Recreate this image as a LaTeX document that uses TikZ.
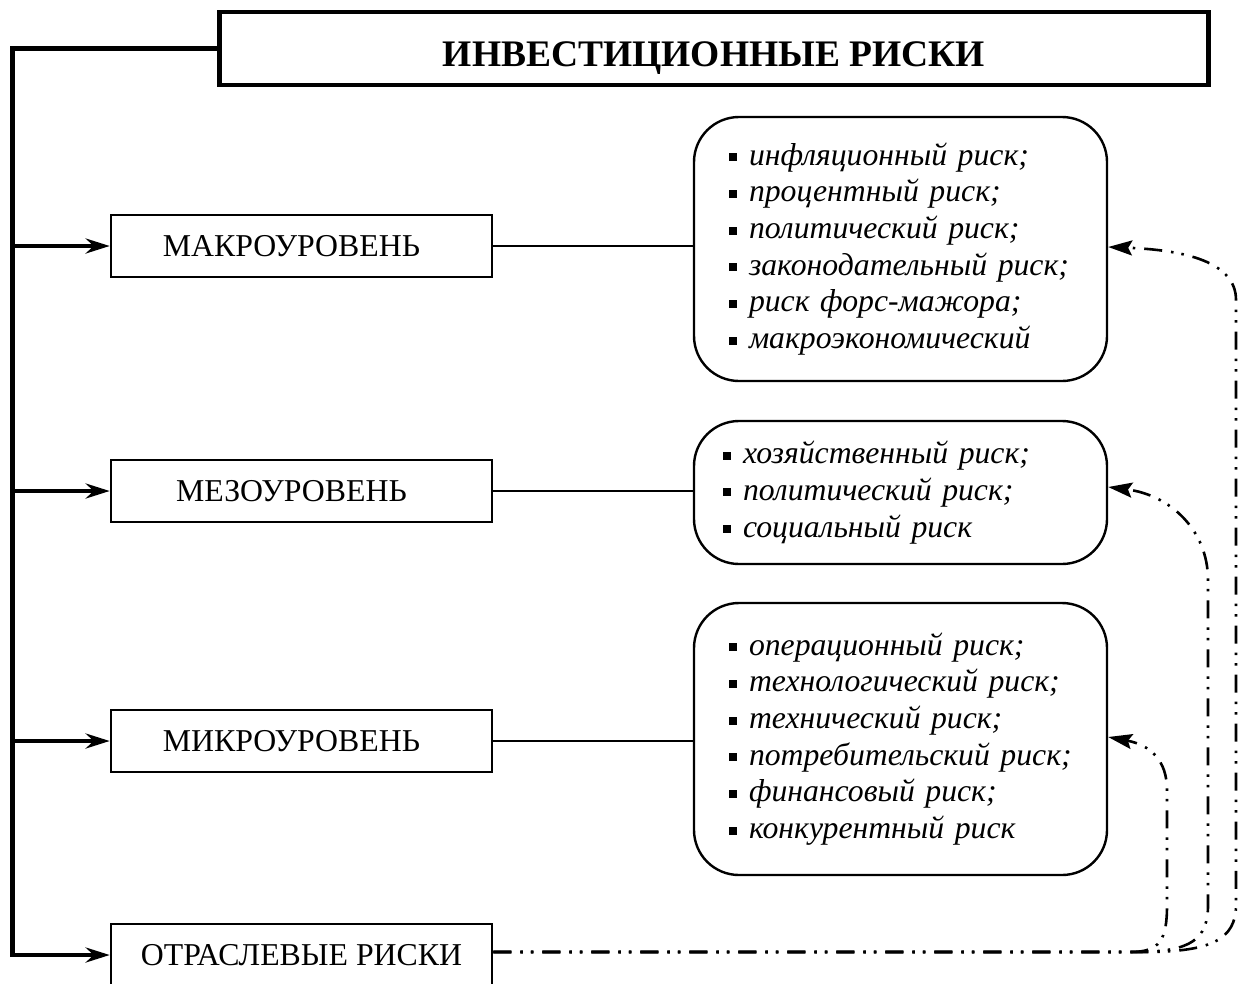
\documentclass[tikz,border=0pt]{standalone}
\usepackage{fontspec}
\setmainfont{Liberation Serif}
\usetikzlibrary{arrows.meta}
\newcommand\itm[1]{\raisebox{4pt}{\rule{8pt}{8pt}}\hspace{12pt}#1}
\begin{document}
\begin{tikzpicture}[x=1pt,y=-1pt,
 titlebox/.style={draw, line width=4.5pt, minimum width=989pt, minimum height=73pt, inner sep=0pt, font=\fontsize{37.5}{42}\selectfont\bfseries},
 lvl/.style={draw, line width=2.6pt, minimum width=381pt, minimum height=62pt, inner sep=0pt, font=\fontsize{31.8}{36}\selectfont},
 rbox/.style={draw, line width=2.4pt, rounded corners=45pt, minimum width=413pt, inner sep=0pt, align=left, font=\fontsize{31.7}{36.7}\selectfont\itshape},
 trunk/.style={line width=5pt, line join=miter},
 feed/.style={line width=4pt, -{Stealth[length=24pt,width=15pt,inset=8pt]}},
 link/.style={line width=2pt},
 dd/.style={line width=2.6pt, dash pattern=on 18pt off 9pt on 2.5pt off 8pt on 2.5pt off 9pt, -{Stealth[length=24pt,width=15pt,inset=4pt]}}]
\useasboundingbox (0,0) rectangle (1241,983);
\clip (0,0) rectangle (1241,983);
\node[titlebox] (title) at (714,48.5) {\raisebox{-5.5pt}[\height][0pt]{ИНВЕСТИЦИОННЫЕ РИСКИ}};
\node[lvl] (macro) at (301.5,246) {\hspace*{-20pt}МАКРОУРОВЕНЬ};
\node[lvl] (meso) at (301.5,491) {\hspace*{-20pt}МЕЗОУРОВЕНЬ};
\node[lvl] (micro) at (301.5,741) {\hspace*{-20pt}МИКРОУРОВЕНЬ};
\node[lvl] (ot) at (301.5,955) {ОТРАСЛЕВЫЕ РИСКИ};
\node[rbox, minimum height=264pt, text width=343pt] (r1) at (900.5,249) {\itm{инфляционный риск;}\\\itm{процентный риск;}\\\itm{политический риск;}\\\itm{законодательный риск;}\\\itm{риск форс-мажора;}\\\itm{макроэкономический}};
\node[rbox, minimum height=143pt, text width=355pt] (r2) at (900.5,492.5) {\itm{хозяйственный риск;}\\\itm{политический риск;}\\\itm{социальный риск}};
\node[rbox, minimum height=272pt, text width=343pt] (r3) at (900.5,739) {\itm{операционный риск;}\\\itm{технологический риск;}\\\itm{технический риск;}\\\itm{потребительский риск;}\\\itm{финансовый риск;}\\\itm{конкурентный риск}};
\coordinate (tl) at (12.5,48);
\coordinate (bl) at (12.5,955);
\draw[trunk] (title.west |- tl) -- (tl) -- (bl);
\draw[feed] ([xshift=-2.5pt]bl) -- (ot.west);
\draw[feed] (macro.west -| tl) -- (macro.west);
\draw[feed] (meso.west -| tl) -- (meso.west);
\draw[feed] (micro.west -| tl) -- (micro.west);
\draw[link] (macro.east) -- (macro.east -| r1.west);
\draw[link] (meso.east) -- (meso.east -| r2.west);
\draw[link] (micro.east) -- (micro.east -| r3.west);
\draw[dd] (ot.east |- 0,952) -- (1130,952) .. controls (1160,952) and (1167,940) .. (1167,905) -- (1167,790) .. controls (1167,760) and (1150,745) .. ([yshift=2pt]r3.east);
\draw[dd] (ot.east |- 0,952) -- (1140,952) .. controls (1190,951) and (1208,940) .. (1208,905) -- (1208,580) .. controls (1208,530) and (1170,495) .. ([yshift=5.5pt]r2.east);
\draw[dd] (ot.east |- 0,952) -- (1150,952) .. controls (1210,951) and (1236,940) .. (1236,905) -- (1236,300) .. controls (1236,262) and (1185,250) .. ([yshift=2pt]r1.east);
\end{tikzpicture}
\end{document}
